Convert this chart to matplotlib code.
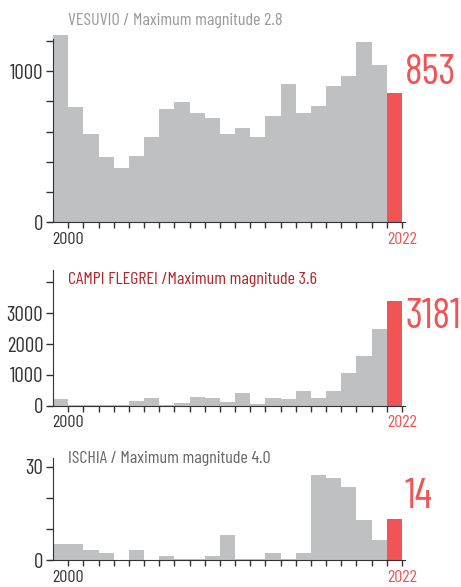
import matplotlib
matplotlib.use("Agg")
import matplotlib.pyplot as plt

# yearly counts, 2000-2022 (last one is highlighted)
years = list(range(2000, 2023))

vesuvio = [1238, 762, 584, 432, 359, 438, 564, 749, 795, 722, 689, 584,
           623, 564, 703, 914, 722, 769, 901, 967, 1192, 1040, 853]
campi = [219, 22, 22, 22, 22, 153, 251, 22, 87, 284, 251, 120,
         415, 55, 251, 219, 481, 251, 481, 1071, 1596, 2481, 3400]
ischia = [5.1, 5.1, 3.2, 2.2, 0, 3.2, 0, 1.3, 0.3, 0.3, 1.3, 8,
          0.3, 0.3, 2.2, 0.3, 2.2, 27.3, 26.4, 23.5, 12.9, 6.4, 13.2]

titles = ["VESUVIO / Maximum magnitude 2.8",
          "CAMPI FLEGREI /Maximum magnitude 3.6",
          "ISCHIA / Maximum magnitude 4.0"]
big_labels = ["853", "3181", "14"]

GREY = "#bfc0c2"
RED = "#f05454"
TITLE_COLORS = ["#9a9a9a", "#b0262c", "#666666"]

plt.rcParams["font.family"] = ["Barlow Condensed", "Roboto Condensed", "Oswald", "DejaVu Sans"]

W, H = 461, 587
fig = plt.figure(figsize=(W / 100, H / 100), dpi=100)

def px_axes(left, top, right, bottom):
    return fig.add_axes([left / W, 1 - bottom / H, (right - left) / W, (bottom - top) / H])

# panel boxes in pixels: left, top(spine top), right, bottom(baseline)
boxes = [(48, 39.3, 405, 222.3), (48, 270, 405, 405.7), (48, 458.3, 405, 560)]
ylims = [1210, 4400, 32.7]
yticks = [list(range(0, 1201, 200)), list(range(0, 4001, 1000)), [0, 10, 20, 30]]
ylabels_shown = [[0, 1000], [0, 1000, 2000, 3000], [0, 30]]
series = [vesuvio, campi, ischia]
title_y = [20, 280, 459]
big_y = [73, 317, 498]

for i in range(3):
    ax = px_axes(*boxes[i])
    vals = series[i]
    cols = [GREY] * (len(vals) - 1) + [RED]
    ax.bar(years, vals, width=-1.0, align="edge", color=cols, linewidth=0, clip_on=False, zorder=1)
    ax.set_xlim(1998.67, 2022.2)
    ax.set_ylim(0, ylims[i])
    for s in ["top", "right"]:
        ax.spines[s].set_visible(False)
    ax.spines["left"].set_position(("data", 1999))
    ax.spines["left"].set_color("#333333")
    ax.spines["bottom"].set_color("#333333")
    ax.spines["left"].set_zorder(3)
    ax.spines["bottom"].set_zorder(3)
    ax.set_xticks(years)
    ax.set_xticklabels(["2000"] + [""] * 21 + ["2022"])
    ax.set_yticks(yticks[i])
    ax.set_yticklabels([str(t) if t in ylabels_shown[i] else "" for t in yticks[i]])
    ax.tick_params(axis="x", length=4, width=1, color="#333333", labelsize=13,
                   labelcolor="#333333", pad=3)
    ax.tick_params(axis="y", length=5, width=1, color="#333333", labelsize=15,
                   labelcolor="#333333", pad=2)
    ax.get_xticklabels()[-1].set_color(RED)
    fig.text(68 / W, 1 - title_y[i] / H, titles[i], color=TITLE_COLORS[i],
             fontsize=13, va="center", ha="left")
    fig.text(405 / W, 1 - big_y[i] / H, big_labels[i], color=RED,
             fontsize=30, va="center", ha="left")

fig.savefig("out.png", dpi=100)
